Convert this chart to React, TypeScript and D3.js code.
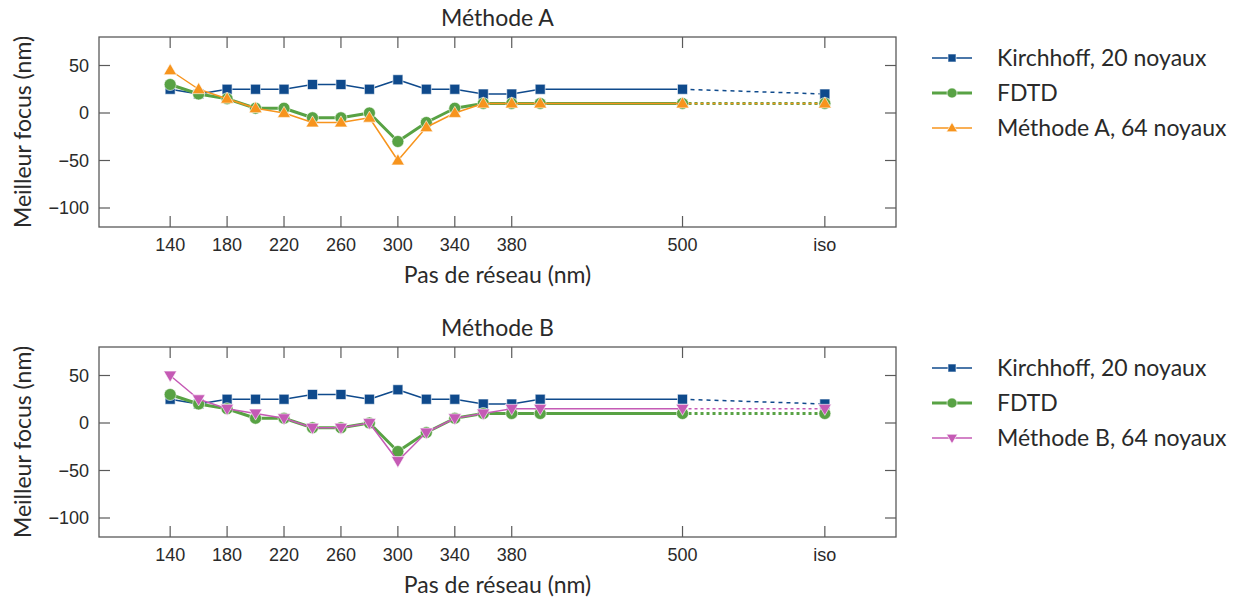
import React from "react";
import * as d3 from "d3";

const pitches = [140, 160, 180, 200, 220, 240, 260, 280, 300, 320, 340, 360, 380, 400, 500];
const isoX = 600;
const xTickValues = [140, 180, 220, 260, 300, 340, 380, 500, 600];
const xTickLabels = ["140", "180", "220", "260", "300", "340", "380", "500", "iso"];
const yTickValues = [50, 0, -50, -100];

const kirchhoff = [25, 20, 25, 25, 25, 30, 30, 25, 35, 25, 25, 20, 20, 25, 25];
const kirchhoffIso = 20;
const fdtd = [30, 20, 15, 5, 5, -5, -5, 0, -30, -10, 5, 10, 10, 10, 10];
const fdtdIso = 10;
const methodA = [45, 25, 15, 5, 0, -10, -10, -5, -50, -15, 0, 10, 10, 10, 10];
const methodAIso = 10;
const methodB = [50, 25, 15, 10, 5, -5, -5, 0, -40, -10, 5, 10, 15, 15, 15];
const methodBIso = 15;

const BLUE = "#0f4a8c";
const GREEN = "#58a244";
const ORANGE = "#f7941d";
const PINK = "#c55ab5";

const TEXT_FONT = "Lato, 'Open Sans', sans-serif";
const TICK_FONT = "'Liberation Sans', Arial, sans-serif";
const TEXT_SIZE = 23;

type Series = {
  name: string;
  values: number[];
  iso: number;
  color: string;
  width: number;
  marker: "square" | "circle" | "triUp" | "triDown";
  isoDash: string;
};

function Marker({ kind, x, y, color, s }: { kind: string; x: number; y: number; color: string; s: number }) {
  const common = { fill: color, stroke: "#ffffff", strokeOpacity: 0.6, strokeWidth: 1 };
  if (kind === "square") return <rect x={x - s / 2} y={y - s / 2} width={s} height={s} {...common} />;
  if (kind === "circle") return <circle cx={x} cy={y} r={s / 2} {...common} />;
  const h = s * 0.85;
  if (kind === "triUp")
    return <path d={`M${x},${y - h * 0.6}L${x + s / 2},${y + h * 0.4}L${x - s / 2},${y + h * 0.4}Z`} {...common} />;
  return <path d={`M${x},${y + h * 0.6}L${x + s / 2},${y - h * 0.4}L${x - s / 2},${y - h * 0.4}Z`} {...common} />;
}

function Panel({ top, title, series }: { top: number; title: string; series: Series[] }) {
  const left = 99, right = 896, h = 190;
  const bottom = top + h;
  const x = d3.scaleLinear().domain([90, 650]).range([left, right]);
  const y = d3.scaleLinear().domain([-120, 80]).range([bottom, top]);
  const line = d3.line<[number, number]>().x((d) => x(d[0])).y((d) => y(d[1]));
  const tickLen = 11;
  const frame = "#5a5a5a";
  const legendY = [top + 21, top + 56, top + 91];
  const mSize = (m: string) => (m === "circle" ? 12 : m === "square" ? 10 : 13);
  const lSize = (m: string) => (m === "circle" ? 10 : m === "square" ? 8 : 11);
  return (
    <g>
      <text x={(left + right) / 2} y={top - 11} textAnchor="middle" fontFamily={TEXT_FONT} fontSize={TEXT_SIZE} fill="#2a2a2a">
        {title}
      </text>
      {series.map((s, i) => (
        <g key={i}>
          <path
            d={line(pitches.map((p, j) => [p, s.values[j]]))!}
            fill="none"
            stroke={s.color}
            strokeWidth={s.width}
            strokeLinejoin="round"
          />
          <path
            d={line([[pitches[pitches.length - 1], s.values[s.values.length - 1]], [isoX, s.iso]])!}
            fill="none"
            stroke={s.color}
            strokeWidth={s.width}
            strokeDasharray={s.isoDash}
          />
          {pitches.map((p, j) => (
            <Marker key={j} kind={s.marker} x={x(p)} y={y(s.values[j])} color={s.color} s={mSize(s.marker)} />
          ))}
          <Marker kind={s.marker} x={x(isoX)} y={y(s.iso)} color={s.color} s={mSize(s.marker)} />
        </g>
      ))}
      <rect x={left} y={top} width={right - left} height={h} fill="none" stroke={frame} strokeWidth={1.3} />
      {xTickValues.map((v, i) => (
        <g key={i}>
          <line x1={x(v)} x2={x(v)} y1={bottom} y2={bottom - tickLen} stroke={frame} strokeWidth={1.2} />
          <line x1={x(v)} x2={x(v)} y1={top} y2={top + tickLen} stroke={frame} strokeWidth={1.2} />
          <text x={x(v)} y={bottom + 24} textAnchor="middle" fontFamily={TICK_FONT} fontSize={18} fill="#2a2a2a">
            {xTickLabels[i]}
          </text>
        </g>
      ))}
      {yTickValues.map((v, i) => (
        <g key={i}>
          <line x1={left} x2={left + tickLen} y1={y(v)} y2={y(v)} stroke={frame} strokeWidth={1.2} />
          <line x1={right} x2={right - tickLen} y1={y(v)} y2={y(v)} stroke={frame} strokeWidth={1.2} />
          <text x={left - 10} y={y(v)} dy="0.35em" textAnchor="end" fontFamily={TICK_FONT} fontSize={18} fill="#2a2a2a">
            {v < 0 ? "\u2212" + Math.abs(v) : String(v)}
          </text>
        </g>
      ))}
      <text x={(left + right) / 2} y={bottom + 56} textAnchor="middle" fontFamily={TEXT_FONT} fontSize={TEXT_SIZE} fill="#2a2a2a">
        Pas de réseau (nm)
      </text>
      <text
        transform={`translate(31,${(top + bottom) / 2}) rotate(-90)`}
        textAnchor="middle"
        fontFamily={TEXT_FONT}
        fontSize={TEXT_SIZE}
        fill="#2a2a2a"
      >
        Meilleur focus (nm)
      </text>
      {series.map((s, i) => (
        <g key={i}>
          <line x1={932} x2={972} y1={legendY[i]} y2={legendY[i]} stroke={s.color} strokeWidth={s.width} />
          <Marker kind={s.marker} x={952} y={legendY[i]} color={s.color} s={lSize(s.marker)} />
          <text x={997} y={legendY[i]} dy="0.36em" fontFamily={TEXT_FONT} fontSize={TEXT_SIZE} fill="#2a2a2a">
            {s.name}
          </text>
        </g>
      ))}
    </g>
  );
}

export default function App() {
  const kirch: Series = { name: "Kirchhoff, 20 noyaux", values: kirchhoff, iso: kirchhoffIso, color: BLUE, width: 1.5, marker: "square", isoDash: "4,4" };
  const fd: Series = { name: "FDTD", values: fdtd, iso: fdtdIso, color: GREEN, width: 3, marker: "circle", isoDash: "3,3" };
  const mA: Series = { name: "Méthode A, 64 noyaux", values: methodA, iso: methodAIso, color: ORANGE, width: 1.5, marker: "triUp", isoDash: "3,3" };
  const mB: Series = { name: "Méthode B, 64 noyaux", values: methodB, iso: methodBIso, color: PINK, width: 1.5, marker: "triDown", isoDash: "3,3" };
  return (
    <svg width={1244} height={599} style={{ display: "block", position: "absolute", left: 0, top: 0 }}>
      <rect width={1244} height={599} fill="#fff" />
      <Panel top={37} title="Méthode A" series={[kirch, fd, mA]} />
      <Panel top={347} title="Méthode B" series={[kirch, fd, mB]} />
    </svg>
  );
}
